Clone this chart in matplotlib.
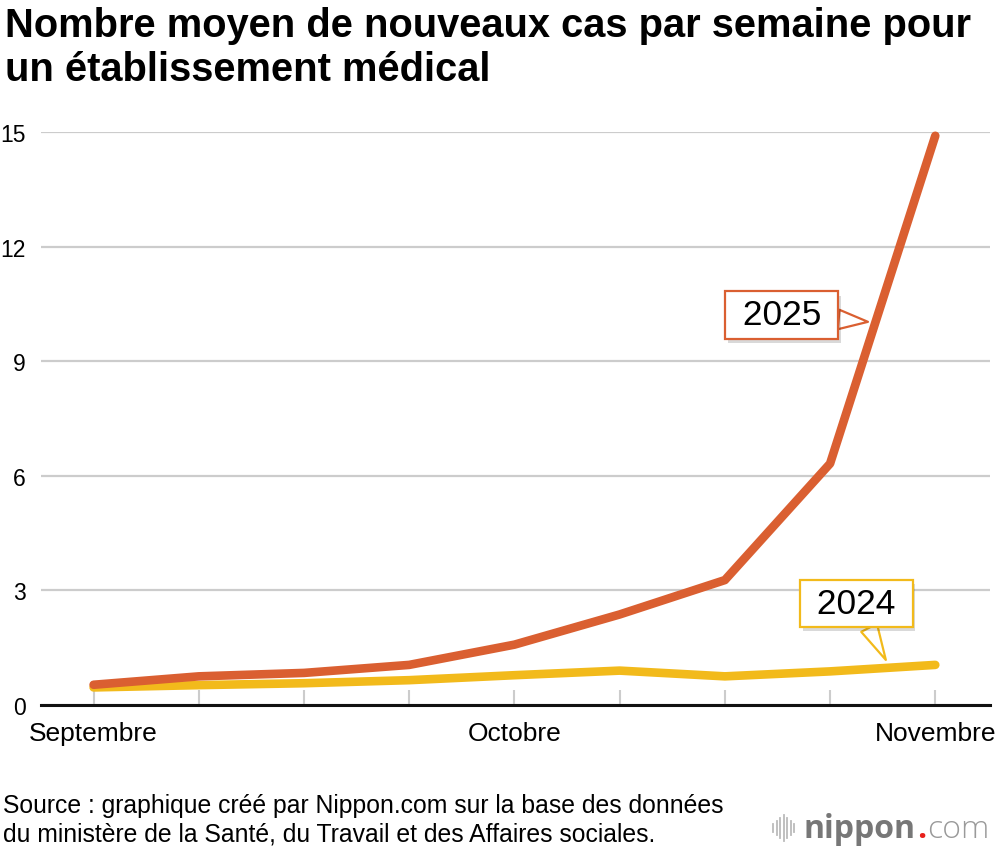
import numpy as np
import matplotlib
matplotlib.use("Agg")
import matplotlib.pyplot as plt
import matplotlib.patheffects as pe
from matplotlib.lines import Line2D

plt.rcParams['font.family'] = ['Liberation Sans', 'DejaVu Sans']

# data
weeks = list(range(9))
cases_2025 = [0.53, 0.75, 0.84, 1.05, 1.58, 2.37, 3.27, 6.32, 14.9]
cases_2024 = [0.46, 0.52, 0.57, 0.65, 0.78, 0.9, 0.75, 0.88, 1.05]
month_pos = [0, 4, 8]
month_labels = ['Septembre', 'Octobre', 'Novembre']
y_ticks = [0, 3, 6, 9, 12, 15]

ORANGE = '#DA5F31'
YELLOW = '#F2BA1B'
GRID = '#CCCCCC'

fig = plt.figure(figsize=(10, 8.54), dpi=100)
ax = fig.add_axes([0.041, 0.1733, 0.949, 0.671])

ax.plot(weeks, cases_2024, color=YELLOW, lw=6.2, solid_capstyle='round',
        solid_joinstyle='round', zorder=3, clip_on=False)
ax.plot(weeks, cases_2025, color=ORANGE, lw=6.2, solid_capstyle='round',
        solid_joinstyle='round', zorder=4, clip_on=False)

ax.set_xlim(-0.5, 8.52)
ax.set_ylim(0, 15)
ax.set_yticks(y_ticks)
ax.set_yticklabels([str(v) for v in y_ticks])
ax.tick_params(axis='y', length=0, pad=11, labelsize=16.5)
ax.grid(axis='y', color=GRID, lw=1.6, zorder=0)
ax.set_axisbelow(True)

# small inner ticks for every week
ax.set_xticks(weeks)
ax.set_xticklabels(['' for _ in weeks])
ax.tick_params(axis='x', direction='in', length=11, width=1.5, color=GRID, pad=0)
for p, lab in zip(month_pos, month_labels):
    ax.text(p, -0.42, lab, ha='center', va='top', fontsize=19)

for s in ['top', 'right', 'left']:
    ax.spines[s].set_visible(False)
ax.spines['bottom'].set_linewidth(2.2)
ax.spines['bottom'].set_color('#111111')
ax.spines['bottom'].set_zorder(5)

shadow = [pe.SimplePatchShadow(offset=(2, -3), alpha=0.15, shadow_rgbFace='black'), pe.Normal()]


def callout(label, xy, xytext, color, tw):
    ann = ax.annotate(' ' + label + ' ', xy=xy, xytext=xytext, fontsize=25.5,
                      ha='center', va='center', zorder=6,
                      bbox=dict(boxstyle='square,pad=0.2', fc='white', ec=color, lw=1.6),
                      arrowprops=dict(arrowstyle=f'wedge,tail_width={tw}', fc='white',
                                      ec=color, lw=1.6, shrinkA=0, shrinkB=0))
    ann.get_bbox_patch().set_path_effects(shadow)
    return ann


callout('2025', (7.36, 10.03), (6.54, 10.21), ORANGE, 0.55)
callout('2024', (7.53, 1.18), (7.25, 2.66), YELLOW, 0.5)

fig.text(0.005, 1 - 7 / 854, 'Nombre moyen de nouveaux cas par semaine pour\nun établissement médical',
         ha='left', va='top', fontsize=28.7, fontweight='bold', linespacing=1.2)

fig.text(0.003, 1 - 820 / 854, 'Source : graphique créé par Nippon.com sur la base des données\n'
         'du ministère de la Santé, du Travail et des Affaires sociales.',
         ha='left', va='center', fontsize=17.8, linespacing=1.25)

# nippon.com logo
yc = 1 - 829 / 854
bar_h = [8, 14, 20, 26, 20, 14, 8]
for i, h in enumerate(bar_h):
    x = (773 + i * 3.5) / 1000
    fig.add_artist(Line2D([x, x], [yc - h / 2 / 854, yc + h / 2 / 854], color='#BBBBBB', lw=1.3))

fig.canvas.draw()
r = fig.canvas.get_renderer()
x0 = 0.804
for txt, col, w in [('nippon', '#777777', 'bold'), ('.', '#E8201B', 'bold'), ('com', '#9A9A9A', 'light')]:
    t = fig.text(x0, 1 - 838 / 854, txt, ha='left', va='baseline', fontsize=23,
                 fontweight=w, color=col, family='Open Sans')
    bb = t.get_window_extent(renderer=r)
    x0 = bb.x1 / 1000 + 0.001

fig.savefig('out.png', dpi=100)
